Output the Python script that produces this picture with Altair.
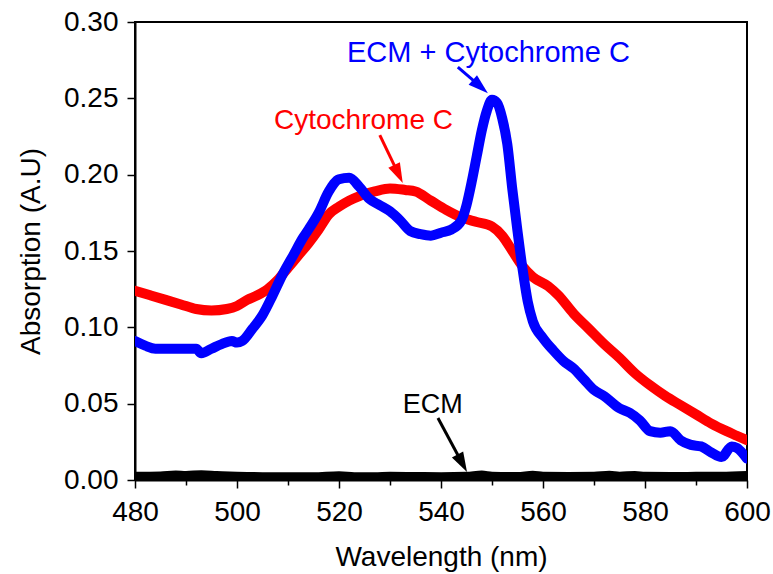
import math
import altair as alt
import pandas as pd

# ---- spectra (wavelength in nm, absorbance in A.U.) ----
cyt_wl = [480, 483, 486, 489, 492, 495, 498, 500, 502, 504, 506, 508, 510, 512, 514,
          516, 518, 520, 522, 524, 527, 530, 533, 535, 538, 541, 544, 547, 550, 552,
          554, 556, 558, 561, 563, 566, 569, 572, 575, 578, 581, 584, 587, 590, 593,
          596, 598, 600]
cyt_abs = [0.124, 0.121, 0.118, 0.115, 0.112, 0.111, 0.112, 0.114, 0.118, 0.121, 0.125,
           0.131, 0.139, 0.147, 0.155, 0.164, 0.174, 0.179, 0.183, 0.186, 0.189, 0.191,
           0.190, 0.189, 0.183, 0.177, 0.172, 0.169, 0.166, 0.160, 0.150, 0.140, 0.133,
           0.127, 0.121, 0.109, 0.099, 0.089, 0.080, 0.070, 0.062, 0.055, 0.049, 0.043,
           0.037, 0.032, 0.029, 0.026]

mix_wl = [480, 482, 484, 487, 490, 492, 493, 495, 497, 499, 500, 501, 503, 505, 507,
          509, 511, 513, 514, 516, 518, 520, 522, 524, 526, 528, 530, 532, 534, 536,
          538, 540, 542, 544, 545, 546, 547, 548, 549, 550, 551, 552, 553, 554, 555,
          556, 557, 558, 560, 562, 564, 566, 568, 570, 572, 575, 577, 579, 581, 583,
          585, 587, 589, 591, 593, 595, 597, 598, 600]
mix_abs = [0.091, 0.088, 0.086, 0.086, 0.086, 0.086, 0.083, 0.086, 0.089, 0.091, 0.090,
           0.091, 0.099, 0.108, 0.121, 0.135, 0.147, 0.159, 0.164, 0.175, 0.189, 0.197,
           0.198, 0.192, 0.184, 0.180, 0.176, 0.170, 0.163, 0.161, 0.160, 0.162, 0.164,
           0.170, 0.180, 0.195, 0.212, 0.229, 0.242, 0.249, 0.247, 0.237, 0.220, 0.190,
           0.163, 0.138, 0.117, 0.104, 0.093, 0.085, 0.078, 0.073, 0.066, 0.059, 0.055,
           0.047, 0.044, 0.039, 0.032, 0.031, 0.032, 0.026, 0.023, 0.022, 0.018, 0.015,
           0.022, 0.021, 0.014]

ecm_wl = [480, 485, 488, 490, 493, 496, 500, 505, 510, 515, 520, 523, 527, 530, 535,
          540, 545, 548, 550, 555, 558, 560, 565, 570, 573, 575, 578, 580, 585, 590,
          595, 600]
ecm_abs = [0.0025, 0.0027, 0.0033, 0.0030, 0.0034, 0.0030, 0.0025, 0.0022, 0.0022,
           0.0021, 0.0028, 0.0022, 0.0021, 0.0024, 0.0023, 0.0022, 0.0024, 0.0032,
           0.0025, 0.0023, 0.0031, 0.0024, 0.0023, 0.0024, 0.0031, 0.0025, 0.0030,
           0.0024, 0.0023, 0.0024, 0.0025, 0.0030]

# ---- annotations ----
label_text = ["ECM + Cytochrome C", "Cytochrome C", "ECM"]
label_x = [549.3, 524.8, 538.4]
label_y = [0.2737, 0.2299, 0.0439]
label_color = ["#0000ff", "#ff0000", "#000000"]
label_size = [29, 28, 27]

# arrows: tail (x, y) -> tip (x2, y2)
arrow_x = [543.3, 528.0, 539.4]
arrow_y = [0.2705, 0.2259, 0.0406]
arrow_x2 = [549.2, 532.5, 545.1]
arrow_y2 = [0.2534, 0.1945, 0.0052]

X_DOMAIN = [480, 600]
Y_DOMAIN = [0.0, 0.30]
W, H = 612, 458
FONT = "Liberation Sans"

x_ticks = list(range(480, 601, 10))
y_ticks = [round(i * 0.025, 3) for i in range(13)]

# pixel scale factors, used to orient the arrowheads
sx = W / (X_DOMAIN[1] - X_DOMAIN[0])
sy = H / (Y_DOMAIN[1] - Y_DOMAIN[0])
HEAD = 20  # arrowhead length in px

arrows = []
for x, y, x2, y2, c in zip(arrow_x, arrow_y, arrow_x2, arrow_y2, label_color):
    dx, dy = (x2 - x) * sx, -(y2 - y) * sy  # screen direction
    length = math.hypot(dx, dy)
    ang = math.degrees(math.atan2(dx, -dy)) % 360
    frac = max(0.0, (length - HEAD * 0.7) / length)
    arrows.append(dict(x=x, y=y, xe=x + (x2 - x) * frac, ye=y + (y2 - y) * frac,
                       x2=x2, y2=y2, angle=ang, color=c))
arrow_df = pd.DataFrame(arrows)

labels_df = pd.DataFrame(dict(text=label_text, x=label_x, y=label_y,
                              color=label_color, size=label_size))

x_scale = alt.Scale(domain=X_DOMAIN, nice=False, zero=False)
y_scale = alt.Scale(domain=Y_DOMAIN, nice=False)

x_axis = alt.Axis(
    values=x_ticks,
    labelExpr="datum.value % 20 === 0 ? datum.label : ''",
    tickSize={"condition": {"test": "datum.value % 20 === 0", "value": 8}, "value": 5},
    title="Wavelength (nm)", titleY=85, titleBaseline="alphabetic",
    labelPadding=10, labelOverlap=False, labelFlush=False, grid=False,
)
y_axis = alt.Axis(
    values=y_ticks, format=".2f",
    labelExpr="round(datum.value * 1000) % 50 === 0 ? datum.label : ''",
    tickSize={"condition": {"test": "round(datum.value * 1000) % 50 === 0", "value": 8},
              "value": 5},
    title="Absorption (A.U)", titleX=-90, titleY=H / 2,
    labelPadding=9, labelOverlap=False, labelFlush=False, grid=False,
)


def spectrum(wl, ab, color, width):
    df = pd.DataFrame(dict(wavelength=wl, absorbance=ab))
    return alt.Chart(df).mark_line(
        color=color, strokeWidth=width, clip=True, strokeJoin="round",
        strokeCap="round", interpolate="monotone"
    ).encode(
        x=alt.X("wavelength:Q", scale=x_scale, axis=x_axis),
        y=alt.Y("absorbance:Q", scale=y_scale, axis=y_axis),
    )


ecm_line = spectrum(ecm_wl, ecm_abs, "#000000", 9)
cyt_line = spectrum(cyt_wl, cyt_abs, "#ff0000", 10)
mix_line = spectrum(mix_wl, mix_abs, "#0000ff", 10)

shafts = alt.Chart(arrow_df).mark_rule(strokeWidth=3).encode(
    x=alt.X("x:Q", scale=x_scale), y=alt.Y("y:Q", scale=y_scale),
    x2="xe:Q", y2="ye:Q",
    color=alt.Color("color:N", scale=None),
)

heads = alt.Chart(arrow_df).mark_point(
    shape="M0,0L0.32,1L-0.32,1Z", filled=True, opacity=1, size=(HEAD * 2) ** 2
).encode(
    x=alt.X("x2:Q", scale=x_scale), y=alt.Y("y2:Q", scale=y_scale),
    angle=alt.Angle("angle:Q", scale=None),
    color=alt.Color("color:N", scale=None),
)

texts = alt.Chart(labels_df).mark_text(
    font=FONT, baseline="alphabetic", align="center"
).encode(
    x=alt.X("x:Q", scale=x_scale), y=alt.Y("y:Q", scale=y_scale),
    text="text:N",
    color=alt.Color("color:N", scale=None),
    size=alt.Size("size:Q", scale=None),
)

chart = alt.layer(ecm_line, cyt_line, mix_line, shafts, heads, texts).properties(
    width=W, height=H,
    padding={"left": 135, "top": 22, "right": 26, "bottom": 94},
    autosize="none",
    background="white",
).configure_view(
    stroke="#000000", strokeWidth=2
).configure_axis(
    labelFont=FONT, titleFont=FONT, labelFontSize=28, titleFontSize=28,
    labelColor="#000000", titleColor="#000000", titleFontWeight="normal",
    domainColor="#000000", domainWidth=2, tickColor="#000000", tickWidth=1.5,
)

chart.save("out.html", embed_options={"renderer": "svg", "actions": False})
